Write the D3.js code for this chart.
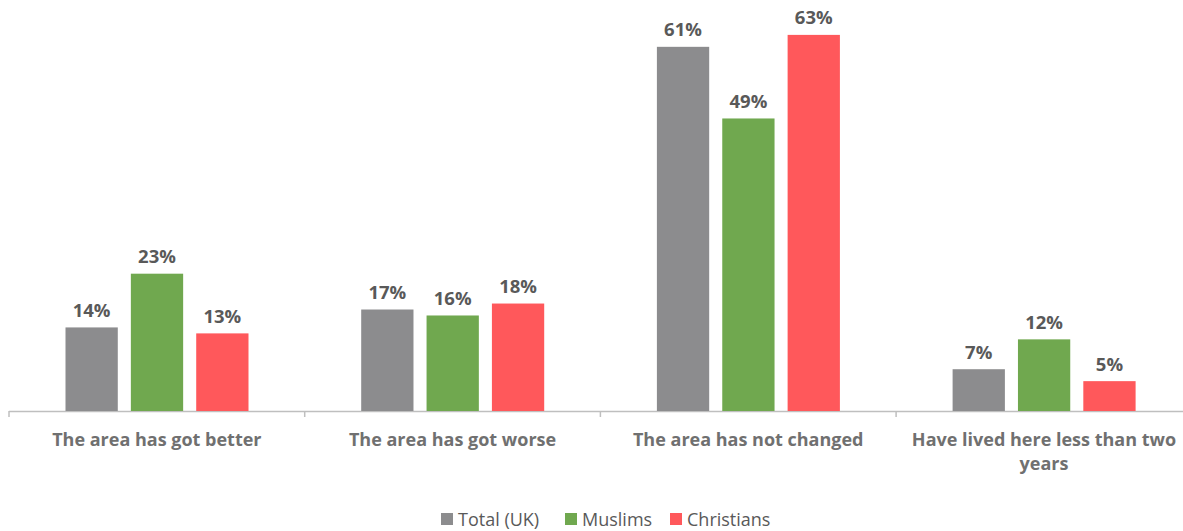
<!DOCTYPE html>
<html><head><meta charset="utf-8">
<script src="https://d3js.org/d3.v7.min.js"></script>
<style>
body{margin:0;background:#fff;}
svg{display:block;font-family:"Open Sans","Noto Sans",sans-serif;}
</style></head>
<body><svg id="chart" width="1183" height="531"></svg>
<script>
const categories = ["The area has got better","The area has got worse","The area has not changed","Have lived here less than two years"];
const seriesNames = ["Total (UK)","Muslims","Christians"];
const totalUK = [14,17,61,7];
const muslims = [23,16,49,12];
const christians = [13,18,63,5];
const colors = ["#8c8c8e","#70a84f","#ff585b"];

const svg = d3.select("#chart");
const W = 1183, H = 531;
const left = 9, bandStep = 295.7;
const baseY = 411;

const x0 = d3.scaleBand().domain(categories).range([left, left + bandStep*4]).padding(0);
const inner = d3.scaleBand().domain(seriesNames).range([56.5, 56.5+183]).paddingInner(0.2).paddingOuter(0);
const y = d3.scaleLinear().domain([0,70]).range([baseY, baseY - 70*5.97]);

const data = categories.map((c,i)=>({cat:c, vals:[totalUK[i],muslims[i],christians[i]]}));

// axis line
const axis = d3.axisBottom(x0).tickSize(0).tickFormat("");
const gAxis = svg.append("g").attr("transform",`translate(0,${baseY})`).call(axis);
gAxis.select(".domain").attr("stroke","#bfbfbf").attr("stroke-width",1.5).attr("d",`M${left},0.5H${W}`);
const bounds = d3.range(5).map(i=>left + i*bandStep);
gAxis.selectAll(".btick").data(bounds).enter().append("line")
  .attr("x1",d=>d).attr("x2",d=>d).attr("y1",0).attr("y2",6)
  .attr("stroke","#bfbfbf").attr("stroke-width",1.5);

// bars
const groups = svg.selectAll(".grp").data(data).enter().append("g")
  .attr("transform",d=>`translate(${x0(d.cat)},0)`);
groups.selectAll("rect").data(d=>d.vals.map((v,j)=>({v,s:seriesNames[j],j}))).enter().append("rect")
  .attr("x",d=>inner(d.s)).attr("width",inner.bandwidth())
  .attr("y",d=>y(d.v)).attr("height",d=>baseY - y(d.v))
  .attr("fill",d=>colors[d.j]);
groups.selectAll("text.val").data(d=>d.vals.map((v,j)=>({v,s:seriesNames[j],j}))).enter().append("text")
  .attr("class","val")
  .attr("x",d=>inner(d.s)+inner.bandwidth()/2).attr("y",d=>y(d.v)-10.5)
  .attr("text-anchor","middle").attr("font-size","18.5px").attr("font-weight","bold")
  .attr("fill","#595959").text(d=>d.v+"%");

// category labels (wrapped)
function wrapLines(t){
  if(t==="Have lived here less than two years") return ["Have lived here less than two","years"];
  return [t];
}
groups.each(function(d){
  const lines = wrapLines(d.cat);
  const t = d3.select(this).append("text").attr("text-anchor","middle")
    .attr("font-size","18px").attr("font-weight","bold").attr("fill","#707070");
  lines.forEach((ln,k)=>{
    t.append("tspan").attr("x",x0.bandwidth()/2).attr("y",446 + k*24).text(ln);
  });
});

// legend
const legend = svg.append("g").attr("transform","translate(0,519)");
const legX = [441, 565, 670];
seriesNames.forEach((s,i)=>{
  const g = legend.append("g").attr("transform",`translate(${legX[i]},0)`);
  g.append("rect").attr("x",0).attr("y",-6).attr("width",12).attr("height",12).attr("fill",colors[i]);
  g.append("text").attr("x",17).attr("y",6.5).attr("font-size","18px").attr("fill","#595959").text(s);
});
</script></body></html>
